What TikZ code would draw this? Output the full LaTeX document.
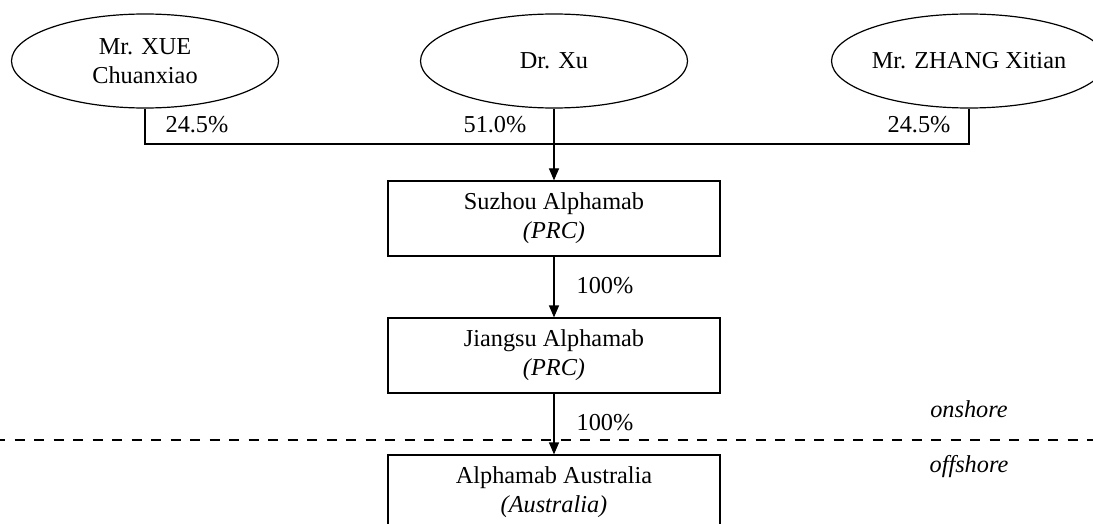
\documentclass[tikz,border=0pt]{standalone}
\usepackage{fontspec}
\setmainfont{Liberation Serif}
\usetikzlibrary{shapes.geometric}
\usetikzlibrary{arrows.meta}

\begin{document}
\begin{tikzpicture}[x=1pt, y=-1pt, line width=1.2pt,
    owner/.style={ellipse, draw, minimum width=267pt, minimum height=94pt, inner sep=0pt, align=center, font=\fontsize{24.3}{28.5}\selectfont},
    entity/.style={rectangle, draw, minimum width=332pt, minimum height=75pt, inner sep=0pt, align=center, font=\fontsize{24.3}{29}\selectfont},
    pct/.style={anchor=base, inner sep=0pt, font=\fontsize{24.3}{29}\selectfont},
    own/.style={-{Triangle[length=12pt, width=10pt]}}]
    \useasboundingbox (0,0) rectangle (1093,524);
    \clip (0,0) rectangle (1093,524);
    % shareholders
    \node[owner] (xue) at (145,61) {Mr. XUE\\Chuanxiao};
    \node[owner] (xu) at (554,61) {Dr. Xu};
    \node[owner] (zhang) at (969,61) {Mr. ZHANG Xitian};
    % companies
    \node[entity] (suzhou) at (554,218.5) {Suzhou Alphamab\\\textit{(PRC)}};
    \node[entity] (jiangsu) at (554,355.5) {Jiangsu Alphamab\\\textit{(PRC)}};
    \node[entity] (australia) at (554,492.5) {Alphamab Australia\\\textit{(Australia)}};
    \coordinate (barL) at (145,144);
    \coordinate (barR) at (969,144);
    \draw (xue.south) -- (barL) -- (barR) -- (zhang.south);
    \draw[own] (xu) -- (suzhou);
    \draw[own] (suzhou) -- (jiangsu);
    \draw[own] (jiangsu) -- (australia);
    \node[pct] (pxue) at (197,133) {24.5\%};
    \node[pct] (pxu) at (495,133) {51.0\%};
    \node[pct] (pzhang) at (919,133) {24.5\%};
    \node[pct] (psuzhou) at (605,293) {100\%};
    \node[pct] (pjiangsu) at (605,430) {100\%};
    % border line
    \draw[dash pattern=on 10pt off 9.5pt, dash phase=5pt] (0,440) -- (1093,440);
    \node[pct] (on) at (969,417) {\textit{onshore}};
    \node[pct] (off) at (969,472) {\textit{offshore}};
\end{tikzpicture}
\end{document}
